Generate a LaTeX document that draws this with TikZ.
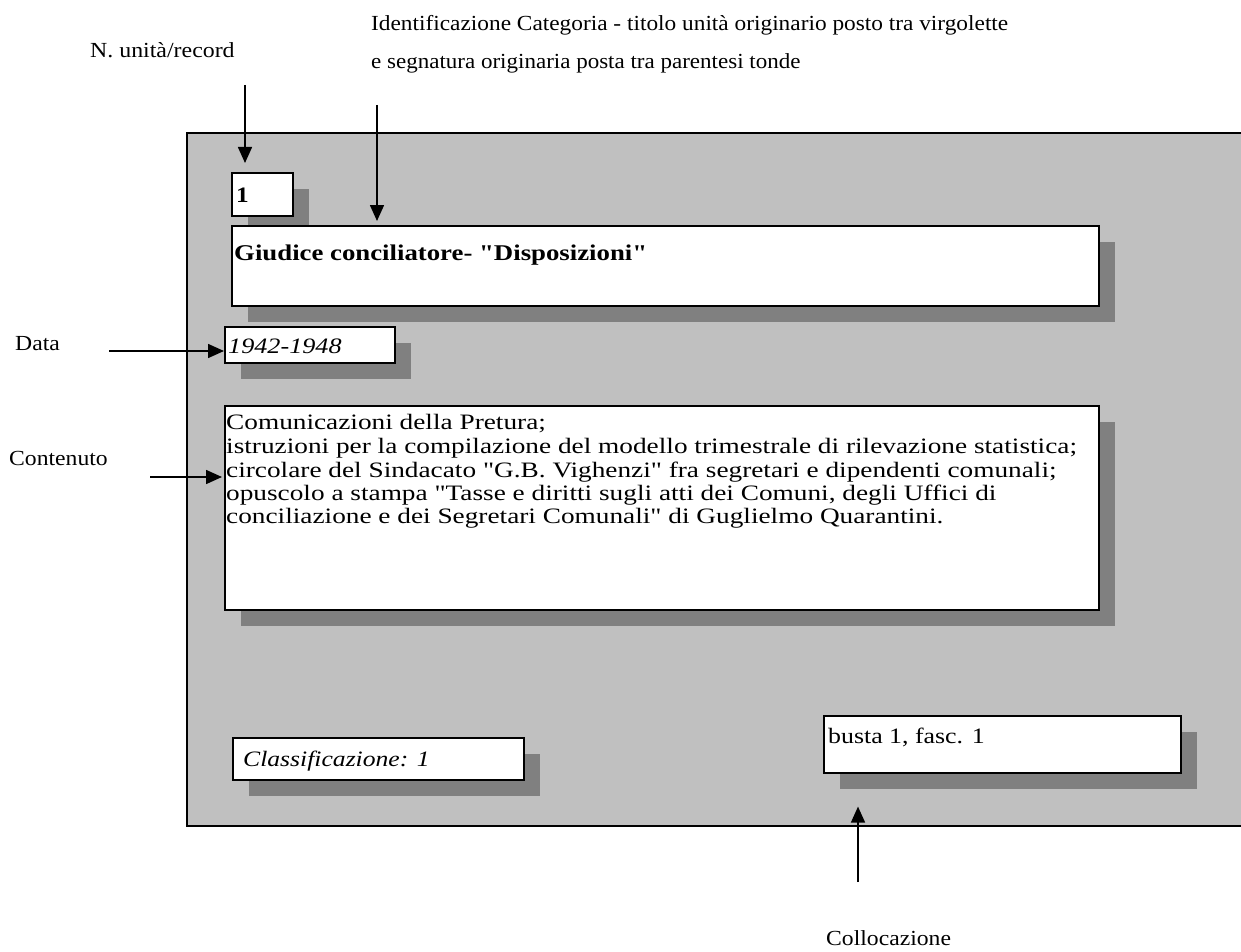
\documentclass[tikz,border=0pt]{standalone}
\usepackage{fontspec}
\setmainfont{Liberation Serif}[Ligatures=TeXOff]
\usetikzlibrary{arrows.meta,shadows,calc}
\definecolor{framegray}{HTML}{C0C0C0}
\definecolor{shadowgray}{HTML}{808080}
\tikzset{
  card/.style={draw=black,line width=1.6pt,fill=white,inner sep=0pt,
    anchor=north west,
    drop shadow={shadow xshift=16pt,shadow yshift=-16pt,opacity=1,fill=shadowgray}},
  arr/.style={line width=1.6pt,-{Triangle[length=16pt,width=14pt]}},
  lab/.style={anchor=base west,inner sep=0pt,font=\fontsize{21.5}{24}\selectfont},
  txt/.style={anchor=base west,inner sep=0pt,font=\fontsize{22}{24}\selectfont},
}
\newcommand{\widetxt}[2]{\scalebox{#1}[1]{#2}}
\begin{document}
\begin{tikzpicture}[x=1pt,y=-1pt]
\clip (0,0) rectangle (1241,952);
\fill[white] (0,0) rectangle (1241,952);
% frame
\draw[line width=1.6pt,fill=framegray] (187,133) rectangle (1260,826);
% boxes
\node[card,minimum width=61pt,minimum height=43pt] (num) at (231,172) {};
\node[card,minimum width=867pt,minimum height=80pt] (title) at (231,225) {};
\node[card,minimum width=170pt,minimum height=36pt] (date) at (224,326) {};
\node[card,minimum width=874pt,minimum height=204pt] (content) at (224,405) {};
\node[card,minimum width=291pt,minimum height=42pt] (class) at (232,737) {};
\node[card,minimum width=357pt,minimum height=57pt] (busta) at (823,715) {};
% box texts
\node[txt,font=\fontsize{22}{24}\selectfont\bfseries] (tnum) at (236,202) {\widetxt{1.15}{1}};
\node[txt,font=\fontsize{22.5}{24}\selectfont\bfseries] (ttitle) at (234,260) {\widetxt{1.19}{Giudice conciliatore- "Disposizioni"}};
\node[txt,font=\fontsize{22}{24}\selectfont\itshape] (tdate) at (228,353) {\widetxt{1.19}{1942-1948}};
\node[txt] (c1) at (226,429) {\widetxt{1.24}{Comunicazioni della Pretura;}};
\node[txt] (c2) at (226,453) {\widetxt{1.24}{istruzioni per la compilazione del modello trimestrale di rilevazione statistica;}};
\node[txt] (c3) at (226,477) {\widetxt{1.24}{circolare del Sindacato "G.B. Vighenzi" fra segretari e dipendenti comunali;}};
\node[txt] (c4) at (226,500) {\widetxt{1.24}{opuscolo a stampa "Tasse e diritti sugli atti dei Comuni, degli Uffici di}};
\node[txt] (c5) at (226,523) {\widetxt{1.24}{conciliazione e dei Segretari Comunali" di Guglielmo Quarantini.}};
\node[txt,font=\fontsize{22}{24}\selectfont\itshape] (tclass) at (243,766) {\widetxt{1.165}{Classificazione: 1}};
\node[txt] (tbusta) at (828,743) {\widetxt{1.175}{busta 1, fasc. 1}};
% labels
\node[lab] (lnum) at (90,58) {\widetxt{1.11}{N. unità/record}};
\node[lab] (lid1) at (371,31) {\widetxt{1.085}{Identificazione Categoria - titolo unità originario posto tra virgolette}};
\node[lab] (lid2) at (371,69) {\widetxt{1.07}{e segnatura originaria posta tra parentesi tonde}};
\node[lab] (ldata) at (15,350) {\widetxt{1.1}{Data}};
\node[lab] (lcont) at (9,465) {\widetxt{1.1}{Contenuto}};
\node[lab] (lcoll) at (826,945) {\widetxt{1.1}{Collocazione}};
% arrows
\coordinate (snum) at (245,85);
\coordinate (sid) at (377,105);
\coordinate (sdata) at (109,351);
\coordinate (scont) at (150,477);
\coordinate (scoll) at (858,882);
\draw[arr,shorten >=9pt] (snum) -- (snum |- num.north);
\draw[arr,shorten >=4pt] (sid) -- (sid |- title.north);
\draw[arr] (sdata) -- (sdata -| date.west);
\draw[arr,shorten >=2pt] (scont) -- (scont -| content.west);
\draw[arr,shorten >=33pt] (scoll) -- (scoll |- busta.south);
\end{tikzpicture}
\end{document}
